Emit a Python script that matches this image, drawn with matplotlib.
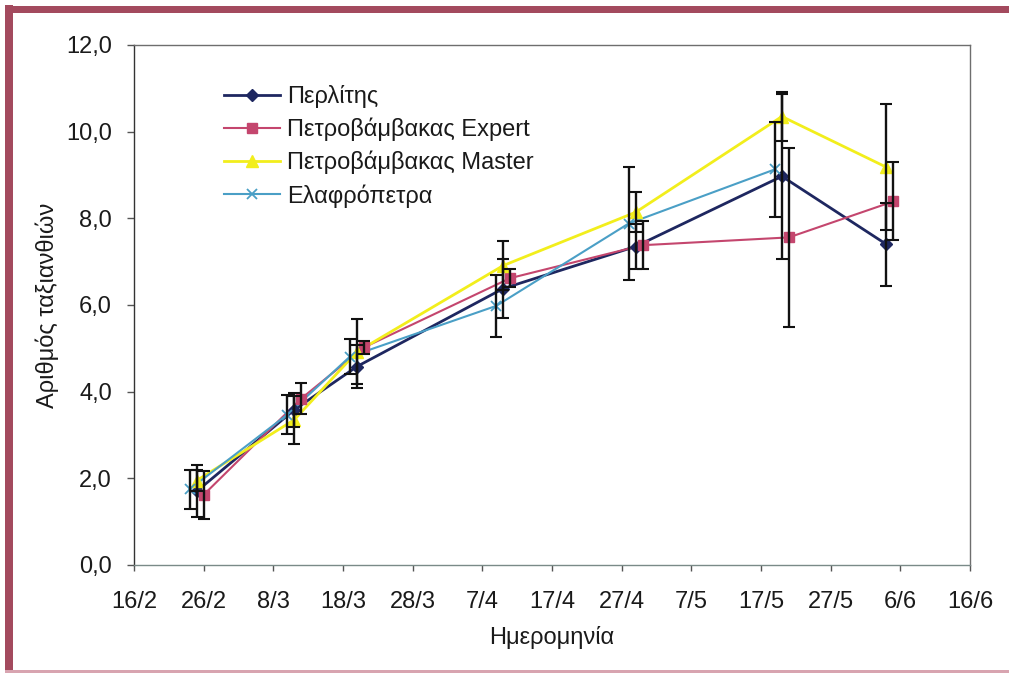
import matplotlib
matplotlib.use('Agg')
import matplotlib.pyplot as plt
import matplotlib.dates as mdates
from matplotlib.lines import Line2D
from matplotlib.patches import Rectangle
from matplotlib.ticker import FixedLocator, FixedFormatter, FuncFormatter
from datetime import datetime

plt.rcParams['font.family'] = ['Liberation Sans', 'DejaVu Sans']

YEAR = 2007


def to_date(s):
    day, mon = s.split('/')
    return datetime(YEAR, int(mon), int(day))


tick_labels = ['16/2', '26/2', '8/3', '18/3', '28/3', '7/4', '17/4',
               '27/4', '7/5', '17/5', '27/5', '6/6', '16/6']
y_ticks = [0, 2, 4, 6, 8, 10, 12]

series_names = ['Περλίτης', 'Πετροβάμβακας Expert',
                'Πετροβάμβακας Master', 'Ελαφρόπετρα']

perlitis_dates = ['25/2', '11/3', '20/3', '10/4', '29/4', '20/5', '4/6']
perlitis_vals = [1.70, 3.58, 4.58, 6.38, 7.35, 8.97, 7.40]
perlitis_err = [0.60, 0.40, 0.50, 0.69, 0.53, 1.90, 0.95]

expert_dates = ['26/2', '12/3', '21/3', '11/4', '30/4', '21/5', '5/6']
expert_vals = [1.62, 3.84, 5.02, 6.62, 7.38, 7.56, 8.39]
expert_err = [0.55, 0.35, 0.15, 0.20, 0.55, 2.07, 0.90]

master_dates = ['25/2', '11/3', '20/3', '10/4', '29/4', '20/5', '4/6']
master_vals = [1.95, 3.35, 4.92, 6.91, 8.14, 10.35, 9.18]
master_err = [0.25, 0.55, 0.75, 0.56, 0.46, 0.56, 1.45]

elafro_dates = ['24/2', '10/3', '19/3', '9/4', '28/4', '19/5']
elafro_vals = [1.75, 3.47, 4.81, 5.98, 7.88, 9.13]
elafro_err = [0.45, 0.45, 0.40, 0.72, 1.30, 1.10]

styles = [
    dict(color='#1E2760', marker='D', ms=6.5, lw=2.0, mew=1.0),
    dict(color='#C4466E', marker='s', ms=7.5, lw=1.5, mew=1.0),
    dict(color='#F2EE1C', marker='^', ms=9, lw=2.0, mew=1.0),
    dict(color='#4A9FC6', marker='x', ms=7, lw=1.5, mew=1.3),
]

data = [
    (perlitis_dates, perlitis_vals, perlitis_err),
    (expert_dates, expert_vals, expert_err),
    (master_dates, master_vals, master_err),
    (elafro_dates, elafro_vals, elafro_err),
]

FS = 17

fig = plt.figure(figsize=(10.09, 6.73), dpi=100)
fig.patch.set_facecolor('white')

# maroon frame around the figure
W, H = 1009, 673
border = '#A34A5E'
fig.patches.append(Rectangle((5 / W, 0), 8 / W, 1 - 5 / H, transform=fig.transFigure,
                             facecolor=border, edgecolor='none', zorder=0))
fig.patches.append(Rectangle((5 / W, 1 - 13 / H), 1 - 5 / W, 7 / H, transform=fig.transFigure,
                             facecolor=border, edgecolor='none', zorder=0))
fig.patches.append(Rectangle((5 / W, 0.5 / H), 1 - 5 / W, 2.5 / H, transform=fig.transFigure,
                             facecolor='#D8A4B0', edgecolor='none', zorder=0))

left, right = 134 / W, 970 / W
bottom, top = (H - 565) / H, (H - 45) / H
ax = fig.add_axes([left, bottom, right - left, top - bottom])

handles = []
for (dts, vals, errs), st, name in zip(data, styles, series_names):
    xs = [mdates.date2num(to_date(s)) for s in dts]
    ax.plot(xs, vals, color=st['color'], lw=st['lw'], zorder=2)
    ax.plot(xs, vals, linestyle='none', marker=st['marker'], ms=st['ms'],
            mfc=st['color'], mec=st['color'], mew=st['mew'], zorder=3)
    ax.errorbar(xs, vals, yerr=errs, fmt='none', ecolor='#111111',
                elinewidth=1.7, capsize=4.5, capthick=1.5, zorder=4)
    handles.append(Line2D([], [], color=st['color'], lw=st['lw'],
                          marker=st['marker'], ms=st['ms'], mfc=st['color'],
                          mec=st['color'], mew=st['mew']))

tick_pos = [mdates.date2num(to_date(s)) for s in tick_labels]
ax.set_xlim(tick_pos[0], tick_pos[-1])
ax.xaxis.set_major_locator(FixedLocator(tick_pos))
ax.xaxis.set_major_formatter(FixedFormatter(tick_labels))
ax.set_ylim(0, 12)
ax.yaxis.set_major_locator(FixedLocator(y_ticks))
ax.yaxis.set_major_formatter(FuncFormatter(lambda v, p: f'{v:.1f}'.replace('.', ',')))

for sp in ax.spines.values():
    sp.set_color('#6E6E6E')
    sp.set_linewidth(1.0)
ax.spines['left'].set_color('#333333')
ax.spines['bottom'].set_color('#7A8A88')

ax.tick_params(axis='x', direction='out', length=4.5, width=1.0, color='#555555',
               pad=14, labelsize=FS, labelcolor='#1A1A1A')
ax.tick_params(axis='y', direction='out', length=5, width=1.0, color='#555555',
               pad=11, labelsize=FS, labelcolor='#1A1A1A')

ax.set_xlabel('Ημερομηνία', fontsize=FS, color='#1A1A1A')
ax.set_ylabel('Αριθμός ταξιανθιών', fontsize=FS, color='#1A1A1A')
ax.xaxis.set_label_coords(0.5, -0.118)
ax.yaxis.set_label_coords(-0.09, 0.5)

leg = ax.legend(handles, series_names, loc='upper left',
                bbox_to_anchor=(0.108, 0.923), frameon=False, fontsize=FS,
                handlelength=2.35, handletextpad=0.3, labelspacing=0.41,
                borderpad=0, borderaxespad=0)
for t in leg.get_texts():
    t.set_color('#1A1A1A')

fig.savefig('out.png', dpi=100, facecolor='white')
